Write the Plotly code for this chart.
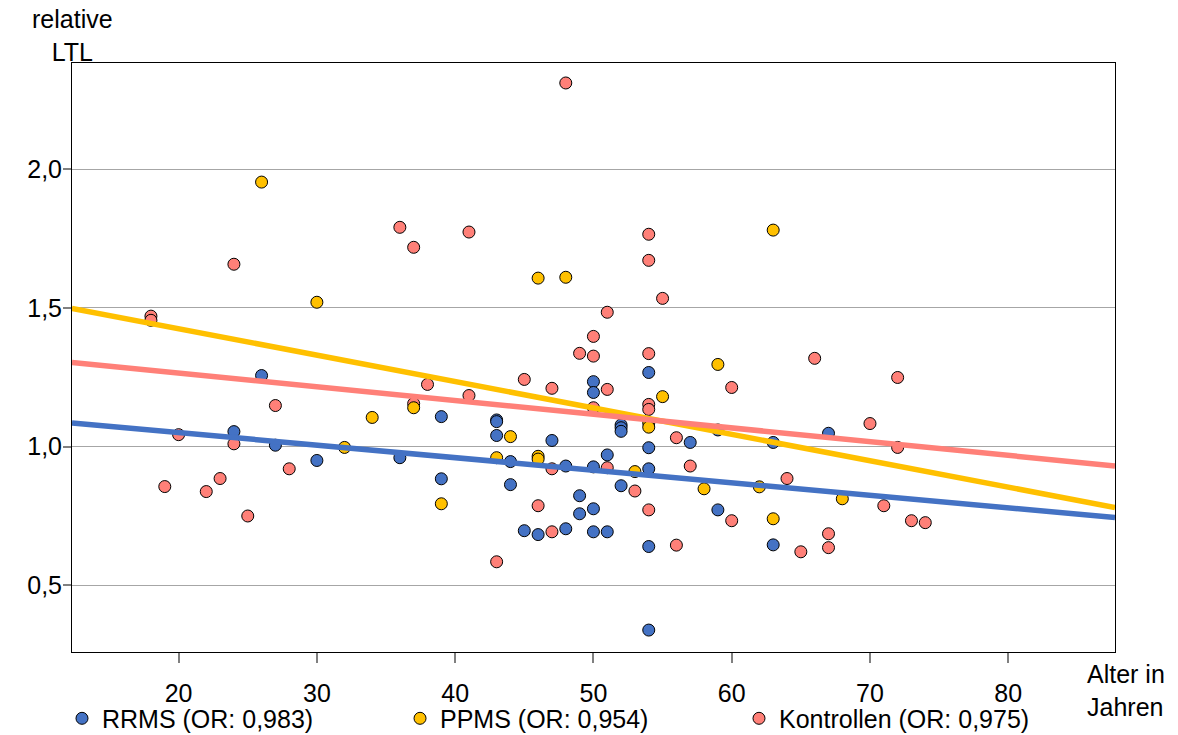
import plotly.graph_objects as go

# Alter (Jahre) und relative Telomerlänge je Gruppe
rrms_age = [24, 26, 27, 30, 36, 39, 39, 43, 43, 43, 44, 44, 45, 46, 47, 48, 48, 49, 49,
            50, 50, 50, 50, 50, 51, 51, 52, 52, 52, 52, 54, 54, 54, 54, 54, 57, 59, 59,
            63, 63, 67]
rrms_ltl = [1.054, 1.256, 1.005, 0.95, 0.96, 1.108, 0.884, 1.096, 1.09, 1.04, 0.946, 0.863,
            0.697, 0.683, 1.022, 0.93, 0.704, 0.823, 0.758, 1.234, 1.195, 0.927, 0.776,
            0.693, 0.97, 0.693, 1.078, 1.068, 1.055, 0.859, 1.267, 0.996, 0.92, 0.64,
            0.339, 1.015, 1.06, 0.772, 1.015, 0.646, 1.048]

ppms_age = [26, 30, 32, 34, 37, 39, 43, 44, 46, 46, 46, 48, 53, 54, 54, 55, 58, 59, 62,
            63, 63, 68]
ppms_ltl = [1.953, 1.52, 0.997, 1.105, 1.14, 0.794, 0.96, 1.036, 1.607, 0.965, 0.955,
            1.61, 0.91, 1.085, 1.07, 1.18, 0.848, 1.296, 0.855, 1.78, 0.74, 0.812]

ktrl_age = [18, 18, 19, 20, 22, 23, 24, 24, 25, 27, 28, 36, 37, 37, 38, 41, 41, 43, 45,
            46, 47, 47, 47, 48, 49, 50, 50, 50, 51, 51, 51, 53, 54, 54, 54, 54, 54, 54,
            55, 56, 56, 57, 60, 60, 64, 65, 66, 67, 67, 70, 71, 72, 72, 73, 74]
ktrl_ltl = [1.47, 1.455, 0.856, 1.043, 0.838, 0.885, 1.657, 1.01, 0.75, 1.148, 0.92,
            1.79, 1.718, 1.155, 1.224, 1.773, 1.184, 0.585, 1.242, 0.787, 1.21, 0.92,
            0.693, 2.31, 1.336, 1.397, 1.326, 1.14, 1.484, 1.206, 0.924, 0.84, 1.765,
            1.671, 1.335, 1.152, 1.134, 0.772, 1.534, 1.032, 0.645, 0.93, 1.213, 0.733,
            0.885, 0.621, 1.318, 0.686, 0.636, 1.083, 0.787, 1.249, 0.997, 0.733, 0.726]

# Lineare Trends (Achsenabschnitt, Steigung)
rrms_fit = (1.141, -0.00452)
ppms_fit = (1.615, -0.009515)
ktrl_fit = (1.364, -0.004945)

group_names = ["RRMS (OR: 0,983)", "PPMS (OR: 0,954)", "Kontrollen (OR: 0,975)"]
x_ticks = [20, 30, 40, 50, 60, 70, 80]
y_ticks = [0.5, 1.0, 1.5, 2.0]
x_range = [12.29, 87.72]
y_range = [0.26, 2.382]

BLUE = "#4472C4"
GOLD = "#FFC000"
SALMON = "#FF8078"
FONT = "Liberation Sans, Arial, sans-serif"
FS = 25

fig = go.Figure()


def scatter(x, y, color, name, legend):
    return go.Scatter(
        x=x, y=y, mode="markers", name=name, legend=legend,
        marker=dict(size=12, color=color, line=dict(color="#000000", width=1)),
    )


fig.add_trace(scatter(ktrl_age, ktrl_ltl, SALMON, group_names[2], "legend3"))
fig.add_trace(scatter(rrms_age, rrms_ltl, BLUE, group_names[0], "legend"))
fig.add_trace(scatter(ppms_age, ppms_ltl, GOLD, group_names[1], "legend2"))


def trend(fit, color):
    a, b = fit
    xs = list(x_range)
    ys = [a + b * v for v in xs]
    return go.Scatter(x=xs, y=ys, mode="lines", showlegend=False,
                      line=dict(color=color, width=5.5), hoverinfo="skip")


fig.add_trace(trend(ppms_fit, GOLD))
fig.add_trace(trend(ktrl_fit, SALMON))
fig.add_trace(trend(rrms_fit, BLUE))

legend_style = dict(orientation="h", yanchor="middle", xanchor="left",
                    font=dict(family=FONT, size=FS, color="#000000"),
                    bgcolor="rgba(0,0,0,0)", itemwidth=30)

fig.update_layout(
    width=1178, height=735,
    margin=dict(l=72, r=63, t=63, b=83, autoexpand=False),
    paper_bgcolor="white", plot_bgcolor="white",
    separators=",.",
    font=dict(family=FONT, size=FS, color="#000000"),
    legend=dict(x=-0.0096, y=-0.113, **legend_style),
    legend2=dict(x=0.3145, y=-0.113, **legend_style),
    legend3=dict(x=0.6395, y=-0.113, **legend_style),
    xaxis=dict(
        range=x_range, tickvals=x_ticks, ticks="outside", ticklen=10,
        tickcolor="#808080", tickwidth=1.5, showgrid=False, zeroline=False,
        showline=True, linecolor="#000000", linewidth=1, mirror=True,
        ticklabelstandoff=9,
        tickfont=dict(family=FONT, size=FS, color="#000000"),
    ),
    yaxis=dict(
        range=y_range, tickvals=y_ticks, tickformat=".1f", ticks="outside",
        ticklen=8, tickcolor="#808080", tickwidth=1.5, showgrid=True,
        gridcolor="#A6A6A6", gridwidth=1.2, zeroline=False,
        showline=True, linecolor="#000000", linewidth=1, mirror=True,
        ticklabelstandoff=-4,
        tickfont=dict(family=FONT, size=FS, color="#000000"),
    ),
    annotations=[
        dict(text="relative<br>LTL", xref="paper", yref="paper", x=0.0, y=1.047,
             xanchor="center", yanchor="middle", align="center", showarrow=False,
             font=dict(family=FONT, size=FS, color="#000000")),
        dict(text="Alter in<br>Jahren", xref="paper", yref="paper", x=0.971, y=-0.066,
             xanchor="left", yanchor="middle", align="left", showarrow=False,
             font=dict(family=FONT, size=FS, color="#000000")),
    ],
)

fig.write_html("out.html")
